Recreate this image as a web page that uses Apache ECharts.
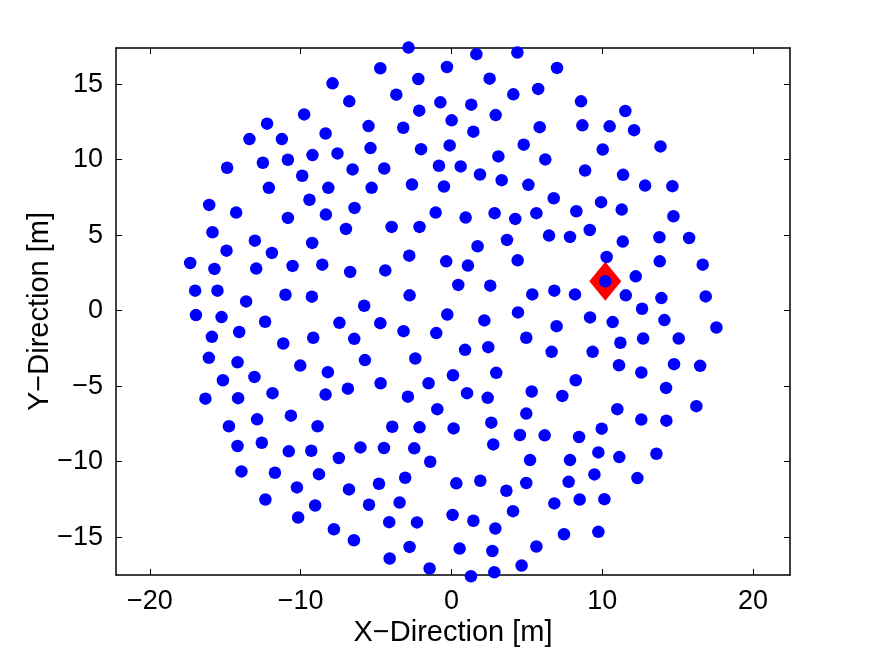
<!DOCTYPE html>
<html>
<head>
<meta charset="utf-8">
<style>
  html, body { margin: 0; padding: 0; background: #fff; }
  #chart { width: 875px; height: 648px; }
</style>
<script src="https://cdn.jsdelivr.net/npm/echarts@6/dist/echarts.min.js"></script>
</head>
<body>
<div id="chart"></div>
<script>
// point positions, in metres
const pointX = [
  -7.89, -6.78, -9.77, -12.23, -8.35, -13.4, -11.25, -7.56, -9.22, -10.85, -12.51, -14.88, -6.56, -9.9, -12.11, -8.17, -9.42, -16.07, -14.28, -6.43, -10.85, -8.33,
  -2.85, 1.65, 4.37, -4.72, -0.3, -2.2, 2.53, -3.66, 4.1, 5.75, -0.74, 1.31, -2.14, 2.93, 0.01, -5.5, -3.2, 1.45, 5.85, -5.37, -2.02, -0.12, 4.79, 3.11, -4.46, -0.83, 0.61, 1.89, 3.33, 5.1, -5.3, -2.62, -0.5, -1.05, 0.94, 2.86, 4.23, 5.63,
  7.0, 8.59, 11.53, 8.68, 10.49, 12.11, 10.03, 13.86, 6.22, 8.86, 11.38, 12.84, 14.65, 6.78, 8.28, 9.92, 11.29, 14.72,
  -7.0, -15.85, -13.04, -9.24, -14.92, -11.91, -17.33, -15.72, -12.95, -10.54, -8.57, -6.72, -17.0, -15.52, -13.62, -11.01, -9.26, -16.95, -15.25, -12.36, -7.43, -6.45, -15.89, -14.08, -11.16, -9.17, -16.09, -14.19, -10.03, -8.2, -15.16, -13.07, -6.87, -16.32, -14.15, -11.87, -8.35,
  -3.97, -2.12, 1.73, 3.68, -2.8, -0.35, 1.09, 4.39, -4.39, 0.45, 2.57, 5.36, -2.78, -5.79, -4.72, -3.18, -1.01, -0.28, 2.18, 4.41, 4.96, 0.9, 2.44, -5.74, -2.4, 0.1, 2.97, -4.7, -1.52, -2.89, 1.03, 2.4, 5.32,
  6.47, 7.86, 9.17, 11.36, 13.79, 15.76, 10.29, 13.81, 16.66, 12.22, 10.2, 6.82, 8.19, 11.56, 13.92, 16.86, 12.64, 9.19, 10.69, 14.12, 17.57, 6.97, 11.2, 12.71, 15.07, 6.64, 9.36, 11.11, 12.59, 14.76, 16.49, 8.24, 14.23, 7.35,
  -12.89, -10.65, -14.76, -8.88, -14.19, -12.58, -10.79, -9.3, -7.47, -6.04, -13.93, -11.71, -8.79, -10.25, -6.8, -12.34, -9.04, -10.17, -7.8, -6.47,
  -0.94, 4.96, -3.93, -2.12, 0.14, 2.64, 4.54, 6.18, -4.48, -2.47, 2.77, -1.41, 5.21, -4.81, -3.07, 0.32, 1.91, 3.64, 4.96, -5.47, -3.44, 0.07, 1.45, 2.91, 4.08, -4.13, -2.29, -2.78, -4.1, 0.54, 2.71, 5.63, -1.45, 1.29, 2.84, 4.65,
  11.0, 16.24, 12.59, 14.25, 8.46, 9.96, 7.86, 9.74, 11.13, 13.59, 7.77, 9.48, 12.33, 6.82, 8.5, 10.14, 7.46, 9.74
];
const pointY = [
  15.06, 13.87, 13.0, 12.39, 11.74, 11.37, 11.37, 10.42, 10.31, 10.0, 9.8, 9.47, 9.36, 8.94, 8.14, 8.14, 7.35, 7.01, 6.5, 6.81, 6.15, 6.37,
  17.43, 16.99, 17.1, 16.06, 16.14, 15.35, 15.37, 14.31, 14.33, 14.69, 13.8, 13.65, 13.25, 12.96, 12.61, 12.23, 12.12, 11.86, 12.16, 10.77, 10.7, 10.95, 11.0, 10.22, 9.42, 9.6, 9.56, 9.02, 8.65, 8.34, 8.14, 8.36, 8.23, 6.5, 6.17, 6.46, 6.08, 6.46,
  16.08, 13.87, 13.23, 12.28, 12.21, 11.96, 10.68, 10.88, 10.02, 9.29, 9.0, 8.29, 8.25, 7.45, 6.59, 7.19, 6.7, 6.26,
  5.42, 5.2, 4.64, 4.49, 3.98, 3.83, 3.16, 2.77, 2.79, 2.97, 3.05, 2.57, 1.33, 1.33, 0.62, 1.06, 0.93, -0.29, -0.42, -0.73, -0.8, -1.86, -1.73, -1.41, -2.17, -1.79, -3.12, -3.41, -3.63, -4.07, -4.6, -4.38, -5.16, -5.82, -5.79, -5.46, -5.55,
  5.55, 5.55, 4.27, 4.69, 3.65, 3.27, 2.99, 3.34, 2.67, 1.71, 1.66, 1.08, 1.02, 0.33, -0.82, -1.35, -1.48, -0.25, -0.64, -0.11, -1.79, -2.59, -2.41, -3.27, -3.16, -4.27, -4.11, -4.8, -4.8, -5.69, -5.46, -5.77, -5.35,
  4.98, 4.89, 5.35, 4.58, 4.87, 4.82, 3.56, 3.27, 3.05, 2.28, 1.95, 1.33, 1.08, 1.02, 0.84, 0.95, 0.13, -0.44, -0.75, -0.62, -1.11, -1.02, -2.12, -1.84, -1.84, -2.72, -2.72, -3.61, -4.09, -3.54, -3.65, -4.6, -5.11, -5.64,
  -7.19, -6.95, -7.65, -7.65, -8.96, -8.74, -9.31, -9.27, -9.75, -9.05, -10.64, -10.73, -10.82, -11.7, -11.83, -12.5, -12.9, -13.69, -14.47, -15.2,
  -6.52, -6.81, -7.68, -7.72, -7.79, -7.41, -8.23, -8.25, -9.09, -9.11, -8.85, -10.0, -9.89, -11.46, -11.06, -11.43, -11.26, -11.92, -11.41, -12.85, -12.7, -13.52, -13.91, -14.42, -13.27, -14.0, -14.02, -15.64, -16.41, -15.75, -15.91, -15.61, -17.07, -17.58, -17.32, -16.87,
  -6.52, -6.32, -7.21, -7.28, -8.36, -7.81, -9.89, -9.38, -9.69, -9.47, -11.33, -10.84, -11.08, -12.76, -12.5, -12.48, -14.8, -14.64
];
// the marked point (red diamond)
const markX = [10.2];
const markY = [1.95];

const xTicks = [-20, -10, 0, 10, 20];
const yTicks = [-15, -10, -5, 0, 5, 10, 15];

const font = '"Liberation Sans", Arial, Helvetica, sans-serif';
const fmt = (v) => String(v).replace('-', '\u2212');

const points = pointX.map((x, i) => [x, pointY[i]]);
const marks = markX.map((x, i) => [x, markY[i]]);

const baseAxis = (ticks, showLabel, margin) => ({
  type: 'value',
  axisLine: { show: true, onZero: false, lineStyle: { color: '#000', width: 1.5 } },
  axisTick: { show: true, inside: true, length: 6, customValues: ticks, lineStyle: { color: '#000', width: 1 } },
  axisLabel: {
    show: showLabel,
    customValues: ticks,
    formatter: fmt,
    margin: margin,
    color: '#000',
    fontSize: 27,
    fontFamily: font,
  },
  splitLine: { show: false },
});

const myChart = echarts.init(document.getElementById('chart'));
myChart.setOption({
  animation: false,
  backgroundColor: '#fff',
  grid: { left: 116, right: 85, top: 48, bottom: 73, outerBoundsMode: 'none', containLabel: false },
  xAxis: [
    Object.assign(baseAxis(xTicks, true, 13), {
      min: -22.25, max: 22.45, position: 'bottom',
      name: 'X\u2212Direction [m]', nameLocation: 'middle', nameGap: 43, nameMoveOverlap: false,
      nameTextStyle: { color: '#000', fontSize: 29, fontFamily: font },
    }),
    Object.assign(baseAxis(xTicks, false, 8), { min: -22.25, max: 22.45, position: 'top' }),
  ],
  yAxis: [
    Object.assign(baseAxis(yTicks, true, 13), {
      min: -17.5, max: 17.4, position: 'left',
      name: 'Y\u2212Direction [m]', nameLocation: 'middle', nameGap: 62, nameRotate: 90, nameMoveOverlap: false,
      nameTextStyle: { color: '#000', fontSize: 29, fontFamily: font },
    }),
    Object.assign(baseAxis(yTicks, false, 8), { min: -17.5, max: 17.4, position: 'right' }),
  ],
  series: [
    {
      type: 'scatter',
      data: marks,
      symbol: 'diamond',
      symbolSize: [32, 39],
      itemStyle: { color: '#ff0000', opacity: 1 },
      clip: false,
      z: 2,
      silent: true,
    },
    {
      type: 'scatter',
      data: points,
      symbol: 'circle',
      symbolSize: 12.5,
      itemStyle: { color: '#0000ff', opacity: 1 },
      clip: false,
      z: 3,
      silent: true,
    },
  ],
});
window.addEventListener('resize', () => myChart.resize());
</script>
</body>
</html>
